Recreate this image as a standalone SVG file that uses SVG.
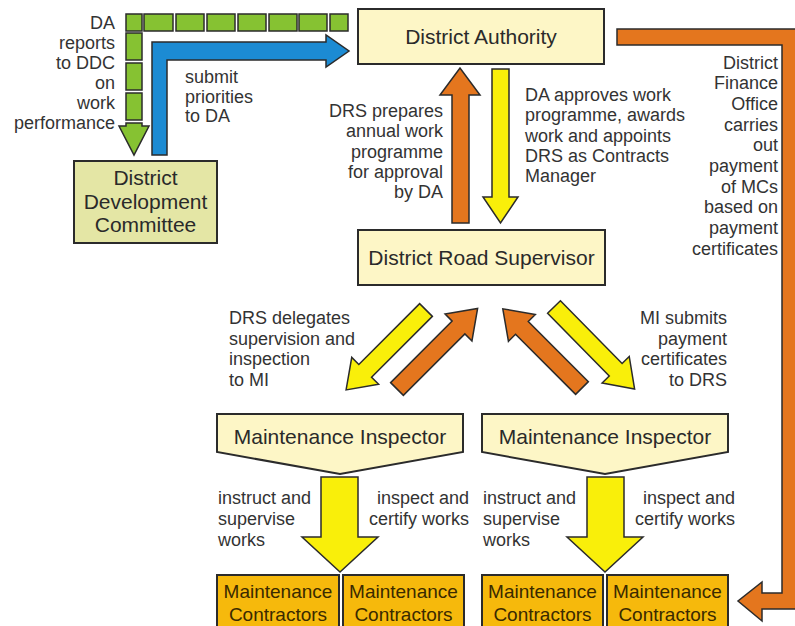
<svg xmlns="http://www.w3.org/2000/svg" width="795" height="626" viewBox="0 0 795 626">
<style>
.lbl{font-family:"Liberation Sans",Arial,sans-serif;font-size:18px;fill:#333}
.ttl{font-family:"Liberation Sans",Arial,sans-serif;font-size:21px;fill:#2a2a2a;text-anchor:middle}
.mc{font-family:"Liberation Sans",Arial,sans-serif;font-size:19px;fill:#3a2a00;text-anchor:middle}
.r{text-anchor:end}
.box{fill:#fdf6c6;stroke:#2b2b2b;stroke-width:2}
.ddc{fill:#e4e6a5;stroke:#2b2b2b;stroke-width:2}
.mcb{fill:#f6b90c;stroke:#2b2b2b;stroke-width:2}
.org{fill:#e4761e;stroke:#2b2b2b;stroke-width:1.5;stroke-linejoin:miter}
.yel{fill:#f9ef0a;stroke:#2b2b2b;stroke-width:1.5;stroke-linejoin:miter}
.grn{fill:#86c232;stroke:#2b2b2b;stroke-width:1.5}
.blu{fill:#1c8bd3;stroke:#2b2b2b;stroke-width:1.5}
</style>
<rect width="795" height="626" fill="#ffffff"/>

<g id="connectors">
  <g id="green-reports">
    <rect class="grn" x="126" y="14" width="16" height="17"/>
    <rect class="grn" x="144" y="14" width="29" height="17"/>
    <rect class="grn" x="176" y="14" width="28" height="17"/>
    <rect class="grn" x="207" y="14" width="28" height="17"/>
    <rect class="grn" x="238" y="14" width="28" height="17"/>
    <rect class="grn" x="269" y="14" width="28" height="17"/>
    <rect class="grn" x="299" y="14" width="28" height="17"/>
    <rect class="grn" x="330" y="14" width="18" height="17"/>
    <rect class="grn" x="126" y="33" width="16" height="27"/>
    <rect class="grn" x="126" y="63" width="16" height="27"/>
    <rect class="grn" x="126" y="93" width="16" height="27"/>
    <polygon class="grn" points="126,123 142,123 142,126 149,126 134,155 119,126 126,126"/>
  </g>
  <polygon id="blue-submit" class="blu" points="152,155 152,42 326,42 326,35 349,51 326,67 326,60 167,60 167,155"/>
  <polygon id="drs-da" class="org" points="452,223 452,95 440,95 460,68 480,95 469,95 469,223"/>
  <polygon id="da-drs" class="yel" points="492,69 509,69 509,197 518,197 500.5,223 483,197 492,197"/>
  <path d="M0,-9 L86,-9 L86,-19 L113,0 L86,19 L86,9 L0,9 Z" class="yel" transform="translate(426,310) rotate(135)"/>
  <path d="M0,-9 L87,-9 L87,-19 L114,0 L87,19 L87,9 L0,9 Z" class="org" transform="translate(397,389) rotate(-45)"/>
  <path d="M0,-9 L85,-9 L85,-19 L112,0 L85,19 L85,9 L0,9 Z" class="org" transform="translate(582,388) rotate(-135)"/>
  <path d="M0,-9 L88,-9 L88,-19 L115,0 L88,19 L88,9 L0,9 Z" class="yel" transform="translate(554,307) rotate(45.5)"/>
  <polygon class="yel" points="321,477 358,477 358,537 378,537 340,572 302,537 321,537"/>
  <polygon class="yel" points="587,477 624,477 624,537 643,537 605,572 567,537 587,537"/>
  <polygon id="finance" class="org" points="617,29 796,29 796,609 762,609 762,621 738,601 762,582 762,593 782,593 782,45 617,45"/>
</g>

<g id="n-da">
  <rect class="box" x="358" y="9" width="246" height="55"/>
  <text class="ttl" x="481" y="44">District Authority</text>
</g>
<g id="n-ddc">
  <rect class="ddc" x="74" y="161" width="143" height="82"/>
  <text class="ttl" x="145.5" y="185">District</text>
  <text class="ttl" x="145.5" y="208.5">Development</text>
  <text class="ttl" x="145.5" y="232">Committee</text>
</g>
<g id="n-drs">
  <rect class="box" x="358" y="230" width="247" height="55"/>
  <text class="ttl" x="481.5" y="265">District Road Supervisor</text>
</g>
<g id="n-mi1">
  <polygon class="box" points="217,414 463,414 463,452 340,474 217,452"/>
  <text class="ttl" x="340" y="444">Maintenance Inspector</text>
</g>
<g id="n-mi2">
  <polygon class="box" points="482,414 728,414 728,452 605,474 482,452"/>
  <text class="ttl" x="605" y="444">Maintenance Inspector</text>
</g>
<g id="n-mc1">
  <rect class="mcb" x="217" y="575" width="122" height="56"/>
  <text class="mc" x="278" y="598">Maintenance</text>
  <text class="mc" x="278" y="621">Contractors</text>
</g>
<g id="n-mc2">
  <rect class="mcb" x="343" y="575" width="121" height="56"/>
  <text class="mc" x="403.5" y="598">Maintenance</text>
  <text class="mc" x="403.5" y="621">Contractors</text>
</g>
<g id="n-mc3">
  <rect class="mcb" x="482" y="575" width="121" height="56"/>
  <text class="mc" x="542.5" y="598">Maintenance</text>
  <text class="mc" x="542.5" y="621">Contractors</text>
</g>
<g id="n-mc4">
  <rect class="mcb" x="607" y="575" width="121" height="56"/>
  <text class="mc" x="667.5" y="598">Maintenance</text>
  <text class="mc" x="667.5" y="621">Contractors</text>
</g>

<g id="labels">
  <text class="lbl r" x="115" y="29">DA</text>
  <text class="lbl r" x="115" y="49">reports</text>
  <text class="lbl r" x="115" y="69">to DDC</text>
  <text class="lbl r" x="115" y="89">on</text>
  <text class="lbl r" x="115" y="109">work</text>
  <text class="lbl r" x="115" y="129">performance</text>

  <text class="lbl" x="185" y="83">submit</text>
  <text class="lbl" x="185" y="102.5">priorities</text>
  <text class="lbl" x="185" y="122">to DA</text>

  <text class="lbl r" x="443" y="117">DRS prepares</text>
  <text class="lbl r" x="443" y="137">annual work</text>
  <text class="lbl r" x="443" y="157.5">programme</text>
  <text class="lbl r" x="443" y="178">for approval</text>
  <text class="lbl r" x="443" y="198">by DA</text>

  <text class="lbl" x="525" y="101">DA approves work</text>
  <text class="lbl" x="525" y="121">programme, awards</text>
  <text class="lbl" x="525" y="142">work and appoints</text>
  <text class="lbl" x="525" y="162">DRS as Contracts</text>
  <text class="lbl" x="525" y="182">Manager</text>

  <text class="lbl r" x="778" y="68.5">District</text>
  <text class="lbl r" x="778" y="89.2">Finance</text>
  <text class="lbl r" x="778" y="109.9">Office</text>
  <text class="lbl r" x="778" y="130.6">carries</text>
  <text class="lbl r" x="778" y="151.3">out</text>
  <text class="lbl r" x="778" y="172">payment</text>
  <text class="lbl r" x="778" y="192.7">of MCs</text>
  <text class="lbl r" x="778" y="213.4">based on</text>
  <text class="lbl r" x="778" y="234.1">payment</text>
  <text class="lbl r" x="778" y="254.8">certificates</text>

  <text class="lbl" x="229" y="324">DRS delegates</text>
  <text class="lbl" x="229" y="344.5">supervision and</text>
  <text class="lbl" x="229" y="365">inspection</text>
  <text class="lbl" x="229" y="385.5">to MI</text>

  <text class="lbl r" x="727" y="324">MI submits</text>
  <text class="lbl r" x="727" y="344.5">payment</text>
  <text class="lbl r" x="727" y="365">certificates</text>
  <text class="lbl r" x="727" y="385.5">to DRS</text>

  <text class="lbl" x="218" y="504">instruct and</text>
  <text class="lbl" x="218" y="525">supervise</text>
  <text class="lbl" x="218" y="546">works</text>
  <text class="lbl r" x="469" y="504">inspect and</text>
  <text class="lbl r" x="469" y="525">certify works</text>

  <text class="lbl" x="483" y="504">instruct and</text>
  <text class="lbl" x="483" y="525">supervise</text>
  <text class="lbl" x="483" y="546">works</text>
  <text class="lbl r" x="735" y="504">inspect and</text>
  <text class="lbl r" x="735" y="525">certify works</text>
</g>
</svg>
